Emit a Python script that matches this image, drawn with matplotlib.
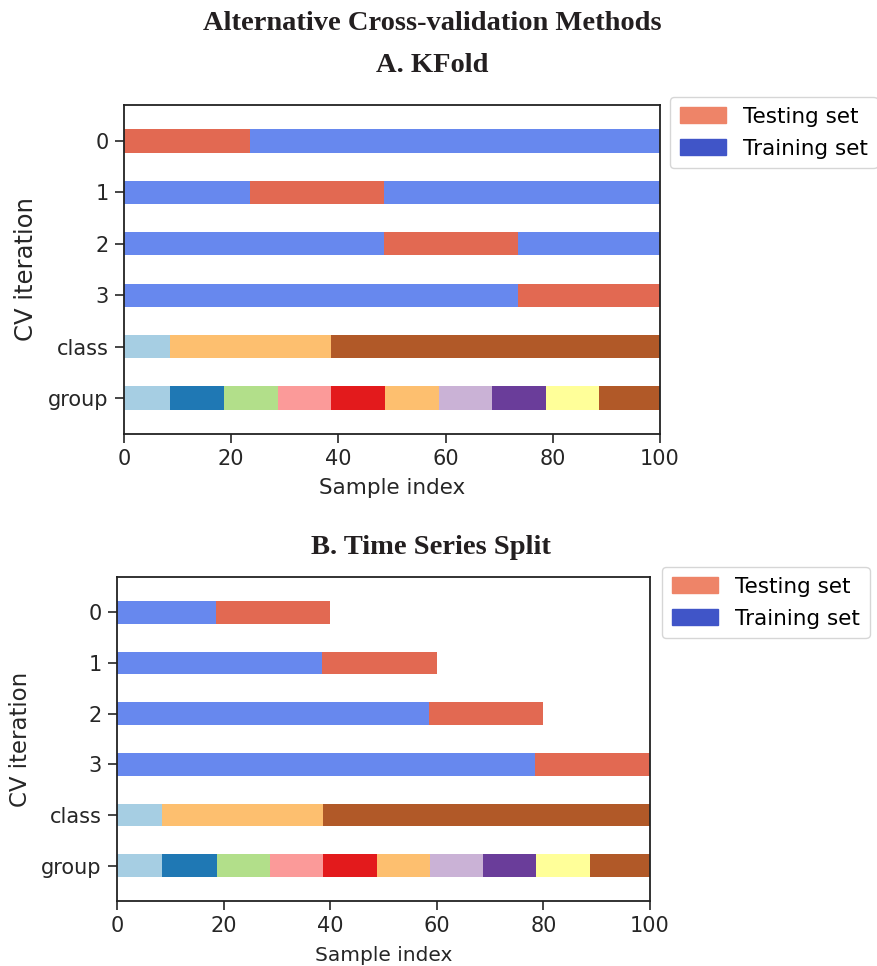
import matplotlib
matplotlib.use("Agg")
import matplotlib.pyplot as plt
from matplotlib.patches import Patch
import numpy as np

plt.rcParams["font.family"] = ["DejaVu Sans"]

# ---- data ----
row_labels = ["0", "1", "2", "3", "class", "group"]

# KFold: (start, end, is_test) segments per CV iteration
kfold_splits = [
    [(0, 23.5, 1), (23.5, 100, 0)],
    [(0, 23.5, 0), (23.5, 48.5, 1), (48.5, 100, 0)],
    [(0, 48.5, 0), (48.5, 73.5, 1), (73.5, 100, 0)],
    [(0, 73.5, 0), (73.5, 100, 1)],
]
# Time series split
ts_splits = [
    [(0, 18.5, 0), (18.5, 40, 1)],
    [(0, 38.5, 0), (38.5, 60, 1)],
    [(0, 58.5, 0), (58.5, 80, 1)],
    [(0, 78.5, 0), (78.5, 100, 1)],
]
class_edges = [0, 8.5, 38.7, 100]
class_color_idx = [0, 6, 11]          # Paired colormap indices
group_edges = [0, 8.5, 18.7, 28.7, 38.7, 48.7, 58.7, 68.7, 78.7, 88.7, 100]
group_color_idx = [0, 1, 2, 4, 5, 6, 8, 9, 10, 11]

cmap_cv = plt.cm.coolwarm
train_color = cmap_cv(0.2 / 1.4)
test_color = cmap_cv(1.2 / 1.4)
paired = plt.cm.Paired

W, H = 877, 966
fig = plt.figure(figsize=(W / 100, H / 100), dpi=100)

FS = 15
bar_h = 0.45
TXT = "#262626"


def draw(ax, splits, xl_fs, yl_fs, xpad):
    for i, segs in enumerate(splits):
        for s, e, t in segs:
            ax.barh(i + 0.5, e - s, left=s, height=bar_h,
                    color=test_color if t else train_color, linewidth=0)
    n = len(splits)
    for k in range(len(class_edges) - 1):
        ax.barh(n + 0.5, class_edges[k + 1] - class_edges[k], left=class_edges[k],
                height=bar_h, color=paired(class_color_idx[k]), linewidth=0)
    for k in range(len(group_edges) - 1):
        ax.barh(n + 1.5, group_edges[k + 1] - group_edges[k], left=group_edges[k],
                height=bar_h, color=paired(group_color_idx[k]), linewidth=0)
    ax.set_yticks(np.arange(n + 2) + 0.5)
    ax.set_yticklabels(row_labels)
    ax.set_ylim(n + 2.2, -0.2)
    ax.set_xlim(0, 100)
    ax.set_xticks([0, 20, 40, 60, 80, 100])
    ax.set_xlabel("Sample index", fontsize=xl_fs, color=TXT, labelpad=xpad)
    ax.set_ylabel("CV iteration", fontsize=yl_fs, color=TXT, labelpad=7)
    ax.tick_params(labelsize=FS, length=6.5, width=1.2, colors=TXT, pad=4.5)
    for sp in ax.spines.values():
        sp.set_linewidth(1.3)
        sp.set_color("#222222")


ax1 = fig.add_axes([124 / W, 1 - 434 / H, (660 - 124) / W, (434 - 105) / H])
draw(ax1, kfold_splits, 15.5, 17.5, 6)
ax2 = fig.add_axes([117 / W, 1 - 901 / H, (650 - 117) / W, (901 - 577) / H])
draw(ax2, ts_splits, 14.5, 16.5, 7)

handles = [Patch(color=cmap_cv(0.8)), Patch(color=cmap_cv(0.02))]
labels = ["Testing set", "Training set"]
for ax, anchor in [(ax1, (670 / W, 1 - 97 / H)), (ax2, (662 / W, 1 - 567 / H))]:
    fig.legend(handles, labels, loc="upper left", bbox_to_anchor=anchor,
               bbox_transform=fig.transFigure, fontsize=15.5, frameon=True,
               handlelength=2.15, handleheight=0.75, borderpad=0.45,
               labelspacing=0.55, handletextpad=0.8, borderaxespad=0)

serif = ["Liberation Serif", "DejaVu Serif"]
fig.text(432 / W, 1 - 24 / H, "Alternative Cross-validation Methods", ha="center",
         va="center", fontsize=20.5, fontweight="bold", family=serif, color="#231f20")
fig.text(432 / W, 1 - 65 / H, "A. KFold", ha="center", va="center",
         fontsize=20.5, fontweight="bold", family=serif, color="#231f20")
fig.text(431 / W, 1 - 547 / H, "B. Time Series Split", ha="center", va="center",
         fontsize=20.5, fontweight="bold", family=serif, color="#231f20")

fig.savefig("out.png", dpi=100)
